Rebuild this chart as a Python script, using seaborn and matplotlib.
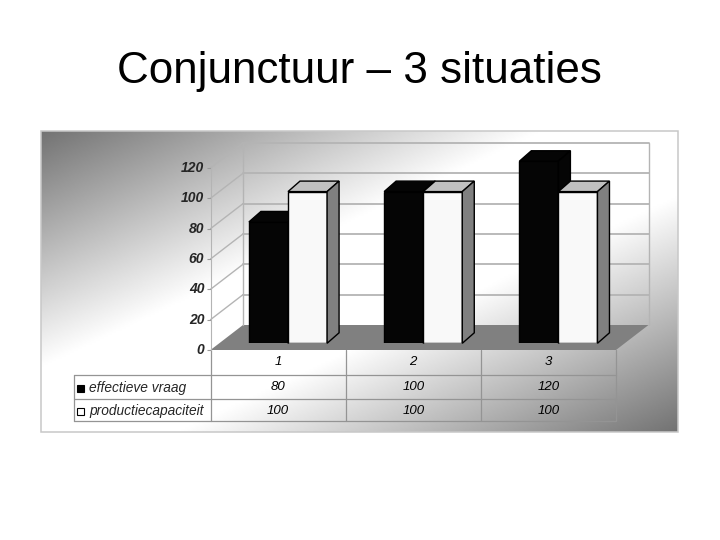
import numpy as np
import pandas as pd
import seaborn as sns
import matplotlib.pyplot as plt
from matplotlib.patches import Polygon, Rectangle
from matplotlib.transforms import ScaledTranslation

situaties = ["1", "2", "3"]
effectieve_vraag = [80, 100, 120]
productiecapaciteit = [100, 100, 100]
y_ticks = [0, 20, 40, 60, 80, 100, 120]
series_names = ["effectieve vraag", "productiecapaciteit"]
title_text = "Conjunctuur \u2013 3 situaties"

sns.set_style("white")
plt.rcParams["font.family"] = ["Liberation Sans", "DejaVu Sans"]

W, H = 720, 540
fig = plt.figure(figsize=(7.2, 5.4), dpi=100, facecolor="white")


def pixel_axes(left, top, right, bottom, zorder):
    ax = fig.add_axes([left / W, (H - bottom) / H, (right - left) / W, (bottom - top) / H], zorder=zorder)
    ax.patch.set_alpha(0)
    return ax


# backdrop in pixel coordinates
back = fig.add_axes([0, 0, 1, 1], zorder=0)
back.axis("off")

# diagonal gradient panel, white band through the middle
px, py = np.meshgrid(np.linspace(0, 1, 320), np.linspace(0, 1, 150))
t = (px + py) / 2
shade = np.clip(0.45 + 0.70 * (1 - np.abs(2 * t - 1)), 0, 1)
back.imshow(shade, cmap="gray", vmin=0, vmax=1, extent=(41, 678, 432, 131), aspect="auto", zorder=0)
back.set_xlim(0, W)
back.set_ylim(H, 0)
back.add_patch(Rectangle((41, 131), 637, 301, fill=False, ec="#c8c8c8", lw=1.1, zorder=1))

# geometry of the fake 3D frame
front_left, front_right = 210.5, 616
front_zero, back_zero = 350, 325
depth_x = 32.5
unit = 1.517
grid_col = "#b4b4b4"

back.add_patch(Polygon([(front_left, front_zero), (front_right, front_zero),
                        (front_right + depth_x, back_zero), (front_left + depth_x, back_zero)],
                       fc="#808080", ec="none", zorder=2))
for v in y_ticks:
    yb = back_zero - v * unit
    yf = front_zero - v * unit
    if v > 0:
        back.plot([front_left, front_left + depth_x], [yf, yb], color=grid_col, lw=1, zorder=2)
        back.plot([front_left + depth_x, front_right + depth_x], [yb, yb], color=grid_col, lw=1.3, zorder=2)
top_wall = back_zero - max(y_ticks) * unit
back.plot([front_left + depth_x] * 2, [back_zero, top_wall], color=grid_col, lw=1, zorder=2)
back.plot([front_right + depth_x] * 2, [back_zero, top_wall], color=grid_col, lw=1, zorder=2)

# value axis on the front plane
axis_ax = pixel_axes(front_left, front_zero - 120 * unit, front_right, front_zero, 1)
axis_ax.set_xlim(-0.5, 2.5)
axis_ax.set_ylim(0, 120)
axis_ax.set_xticks([])
axis_ax.set_yticks(y_ticks)
axis_ax.set_yticklabels([str(v) for v in y_ticks], fontsize=10, fontweight="bold", fontstyle="italic")
axis_ax.tick_params(axis="y", length=3, width=0.8, color="#9a9a9a", pad=1.5, left=True)
nudge = ScaledTranslation(0, 1.5 / 100, fig.dpi_scale_trans)
for lab in axis_ax.get_yticklabels():
    lab.set_transform(lab.get_transform() + nudge)
sns.despine(ax=axis_ax, top=True, right=True, bottom=True)
axis_ax.spines["left"].set_color(grid_col)

# bars
df = pd.DataFrame({
    "situatie": situaties * 2,
    "waarde": effectieve_vraag + productiecapaciteit,
    "reeks": [series_names[0]] * 3 + [series_names[1]] * 3,
})
bar_ax = pixel_axes(220.4, 343.3 - 120 * unit, 626, 343.3, 3)
sns.barplot(data=df, x="situatie", y="waarde", hue="reeks", order=situaties, hue_order=series_names,
            palette=["#050505", "#f9f9f9"], width=0.578, gap=0, saturation=1,
            edgecolor="black", linewidth=1, legend=False, ax=bar_ax)
bar_ax.set_xlim(-0.5, 2.5)
bar_ax.set_ylim(0, 120)
bar_ax.axis("off")

dx = 12 / (405.6 / 3)
dy = 10.5 / unit
for i, bar in enumerate(list(bar_ax.patches)):
    is_black = i < len(situaties)
    z = 2 if is_black else 3
    bar.set_zorder(z)
    x0, w, h = bar.get_x(), bar.get_width(), bar.get_height()
    top_col = "#050505" if is_black else "#c0c0c0"
    side_col = "#050505" if is_black else "#808080"
    bar_ax.add_patch(Polygon([(x0, h), (x0 + dx, h + dy), (x0 + w + dx, h + dy), (x0 + w, h)],
                             fc=top_col, ec="black", lw=1, zorder=z, clip_on=False))
    bar_ax.add_patch(Polygon([(x0 + w, h), (x0 + w + dx, h + dy), (x0 + w + dx, dy), (x0 + w, 0)],
                             fc=side_col, ec="black", lw=1, zorder=z, clip_on=False))

# data table under the chart
row_lines = [374.5, 398.5, 420.5]
legend_left = 73.5
col_lines = [front_left + (front_right - front_left) * k / 3 for k in range(4)]
table_col = "#949494"
for x in col_lines:
    back.plot([x, x], [front_zero, row_lines[-1]], color=table_col, lw=0.9, zorder=3)
back.plot([legend_left, legend_left], [row_lines[0], row_lines[-1]], color=table_col, lw=0.9, zorder=3)
for y in row_lines:
    back.plot([legend_left, front_right], [y, y], color=table_col, lw=0.9, zorder=3)

cell_style = dict(fontsize=9.5, fontstyle="italic", ha="center", va="center", color="black", zorder=4)
for k, label in enumerate(situaties):
    xc = (col_lines[k] + col_lines[k + 1]) / 2
    back.text(xc, 362, label, **cell_style)
    back.text(xc, 387, str(effectieve_vraag[k]), **cell_style)
    back.text(xc, 410.5, str(productiecapaciteit[k]), **cell_style)

for name, yc, col in zip(series_names, [388, 411], ["black", "white"]):
    back.add_patch(Rectangle((77, yc - 3.5), 7, 7, fc=col, ec="black", lw=0.8, zorder=4))
    back.text(89, yc, name, fontsize=9.9, fontstyle="italic", ha="left", va="center", zorder=4)

back.text(359.5, 71.5, title_text, fontsize=31.65, ha="center", va="center", color="black", zorder=4)

fig.savefig("out.png", dpi=100)
